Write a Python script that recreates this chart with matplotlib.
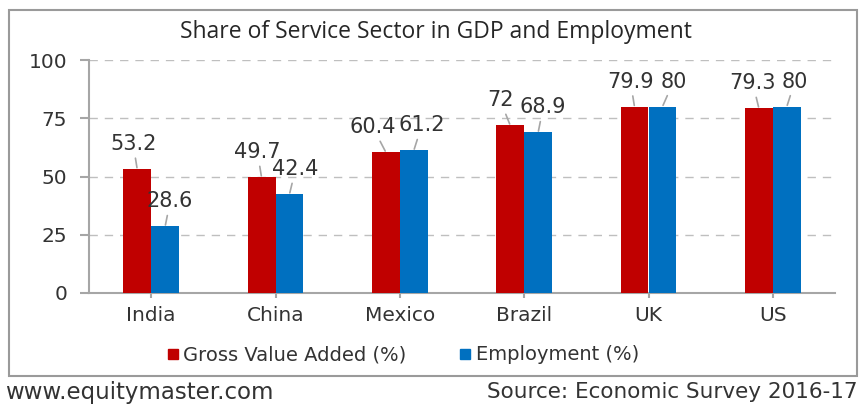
import matplotlib
matplotlib.use("Agg")
import matplotlib.pyplot as plt
import numpy as np
from matplotlib.patches import Rectangle
from matplotlib.lines import Line2D

countries = ["India", "China", "Mexico", "Brazil", "UK", "US"]
gva = [53.2, 49.7, 60.4, 72, 79.9, 79.3]
emp = [28.6, 42.4, 61.2, 68.9, 80, 80]
gva_labels = ["53.2", "49.7", "60.4", "72", "79.9", "79.3"]
emp_labels = ["28.6", "42.4", "61.2", "68.9", "80", "80"]
yticks = [0, 25, 50, 75, 100]

RED = "#C00000"
BLUE = "#0070C0"
TXT = "#333333"
GRAY = "#A6A6A6"
PT = 0.72  # points per pixel at 100 dpi

plt.rcParams['font.family'] = ['DejaVu Sans']

fig = plt.figure(figsize=(8.64, 4.05), dpi=100)

# outer frame
fig.patches.append(Rectangle((9/864, 1-376/405), (857-9)/864, (376-10)/405,
                             transform=fig.transFigure, fill=False,
                             edgecolor="#9A9A9A", linewidth=1.5))

ax = fig.add_axes([89/864, 1-293/405, (835-89)/864, (293-60)/405])
x = np.arange(len(countries))
w = 0.225
ax.bar(x - w/2, gva, width=w, color=RED, zorder=3)
ax.bar(x + w/2, emp, width=w, color=BLUE, zorder=3)

ax.set_xlim(-0.5, len(countries) - 0.5)
ax.set_ylim(0, 100)
ax.set_yticks(yticks)
ax.set_xticks(x)
ax.set_xticklabels(countries)
ax.tick_params(axis='y', length=9*PT, color=GRAY, width=1.5, labelsize=14.5, labelcolor=TXT, pad=13*PT)
ax.tick_params(axis='x', length=5*PT, color=GRAY, width=1.5, labelsize=14.5, labelcolor=TXT, pad=8*PT)
ax.yaxis.grid(True, linestyle=(0, (6, 5)), color="#BFBFBF", linewidth=1, zorder=0)
for s in ["top", "right"]:
    ax.spines[s].set_visible(False)
for s in ["left", "bottom"]:
    ax.spines[s].set_color(GRAY)
    ax.spines[s].set_linewidth(1.5)

red_dx = [-4, -4, -13, -10, -4, -6]
blue_dx = [5, 6, 8, 5, 11, 8]
for i in range(len(countries)):
    ax.annotate(gva_labels[i], xy=(x[i] - w/2, gva[i]), xytext=(red_dx[i]*PT, 15*PT),
                textcoords="offset points", ha="center", va="bottom",
                fontsize=15, color=TXT,
                arrowprops=dict(arrowstyle='-', color=GRAY, lw=1.2, shrinkA=1, shrinkB=1))
    ax.annotate(emp_labels[i], xy=(x[i] + w/2, emp[i]), xytext=(blue_dx[i]*PT, 15*PT),
                textcoords="offset points", ha="center", va="bottom",
                fontsize=15, color=TXT,
                arrowprops=dict(arrowstyle='-', color=GRAY, lw=1.2, shrinkA=1, shrinkB=1))

fig.text(436/864, 1-32/405, "Share of Service Sector in GDP and Employment",
         ha="center", va="center", fontsize=16.5, color="#262626",
         family=['Open Sans', 'DejaVu Sans'])

handles = [Line2D([], [], marker='s', linestyle='none', color=RED, markersize=7),
           Line2D([], [], marker='s', linestyle='none', color=BLUE, markersize=7)]
fig.legend(handles, ["Gross Value Added (%)", "Employment (%)"],
           loc="center", bbox_to_anchor=(402/864, 1-355/405), ncol=2, frameon=False,
           fontsize=14, handletextpad=0.15, handlelength=0.8, columnspacing=2.6, labelcolor=TXT)

fig.text(5/864, 1-392/405, "www.equitymaster.com", ha="left", va="center",
         fontsize=16.5, color=TXT)
fig.text(858/864, 1-392/405, "Source: Economic Survey 2016-17", ha="right", va="center",
         fontsize=15.5, color=TXT)

fig.savefig("out.png", dpi=100)
